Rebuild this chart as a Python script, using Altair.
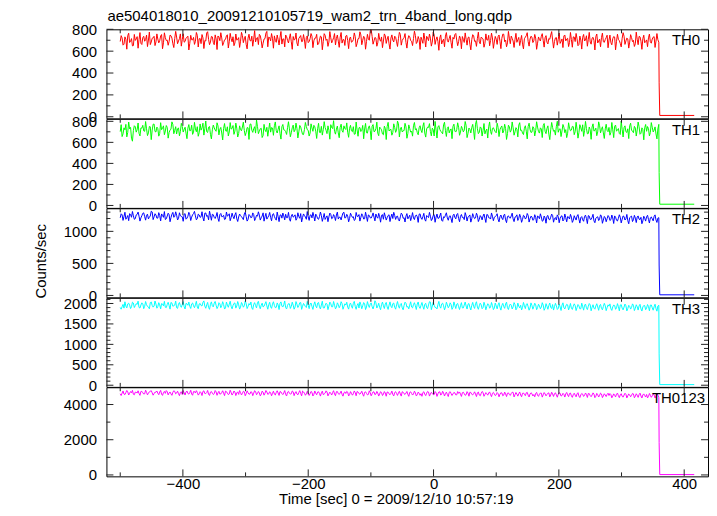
import altair as alt
import pandas as pd

# ---------------- data ----------------
T_START = -500          # first bin time of the A samples [s]
T_START_B = -498.5      # first bin time of the B samples [s]
T_STEP = 3              # spacing within each list [s]
TAIL_T = [360, 361, 416]  # times after the count-rate drop

TH0 = [
    688, 721, 664, 709, 742, 679, 715, 651, 698, 733, 706, 672, 724, 691, 747, 702, 660, 718, 736, 684,
    711, 695, 752, 677, 723, 701, 689, 741, 668, 716, 729, 693, 758, 705, 682, 719, 737, 671, 704, 726,
    690, 745, 713, 669, 722, 698, 766, 707, 684, 731, 659, 712, 739, 696, 721, 677, 708, 750, 687, 714,
    732, 675, 701, 724, 691, 743, 713, 662, 719, 698, 737, 709, 685, 726, 754, 697, 673, 715, 781, 729,
    694, 718, 740, 681, 707, 727, 665, 712, 748, 699, 721, 686, 734, 709, 675, 717, 743, 690, 703, 725,
    678, 714, 736, 695, 720, 658, 701, 731, 689, 745, 710, 683, 722, 698, 761, 716, 692, 728, 674, 705,
    739, 697, 718, 682, 706, 733, 671, 715, 749, 700, 724, 688, 712, 786, 735, 694, 719, 676, 708, 730,
    693, 741, 711, 667, 720, 702, 737, 686, 714, 753, 698, 725, 679, 709, 732, 690, 716, 744, 684, 707,
    728, 672, 711, 736, 696, 719, 683, 747, 705, 689, 722, 666, 710, 738, 699, 715, 678, 726, 752, 701,
    687, 716, 734, 680, 709, 724, 663, 706, 741, 694, 718, 685, 729, 712, 672, 703, 745, 697, 721, 684,
    710, 733, 690, 717, 755, 702, 676, 719, 738, 693, 708, 681, 726, 700, 664, 714, 742, 688, 711, 729,
    695, 720, 673, 707, 736, 699, 723, 682, 716, 747, 703, 689, 725, 708, 671, 712, 739, 694, 718, 680,
    706, 731, 688, 713, 660, 702, 727, 693, 741, 709, 684, 719, 698, 733, 675, 710, 724, 687, 706, 746,
    701, 678, 715, 729, 690, 708, 671, 718, 737, 694, 712, 683, 724, 699, 668, 709, 735, 691, 714, 677,
    703, 722, 686, 711, 733, 692, 705,
]
TH0_B = [
    742, 655, 731, 618, 764, 690, 648, 753, 712, 627, 770, 661, 736, 705, 642, 775, 684, 722, 651, 758,
    676, 739, 622, 768, 697, 654, 747, 720, 633, 781, 668, 715, 646, 759, 689, 728, 611, 745, 703, 662,
    771, 638, 716, 752, 624, 693, 778, 659, 735, 681, 749, 615, 727, 769, 652, 704, 741, 629, 763, 686,
    650, 757, 707, 634, 772, 678, 736, 621, 755, 693, 645, 788, 718, 660, 742, 630, 711, 765, 640, 724,
    761, 627, 699, 748, 656, 780, 712, 639, 733, 675, 759, 617, 702, 766, 648, 729, 687, 752, 625, 740,
    688, 761, 632, 719, 754, 667, 738, 613, 760, 699, 644, 779, 676, 723, 657, 748, 635, 771, 706, 652,
    745, 623, 729, 688, 767, 641, 714, 777, 659, 736, 618, 754, 700, 795, 664, 726, 645, 763, 691, 632,
    758, 671, 736, 619, 749, 684, 727, 643, 772, 655, 713, 761, 628, 742, 697, 651, 783, 670, 734, 616,
    703, 766, 638, 721, 757, 646, 776, 662, 731, 608, 749, 694, 640, 770, 683, 744, 627, 711, 762, 650,
    739, 622, 708, 767, 655, 730, 612, 751, 690, 644, 774, 667, 720, 636, 758, 701, 649, 765, 626, 735,
    662, 748, 623, 756, 687, 640, 781, 668, 717, 634, 763, 705, 651, 744, 621, 728, 769, 646, 737, 679,
    753, 617, 730, 693, 760, 637, 742, 666, 709, 779, 628, 721, 655, 766, 690, 633, 748, 711, 642, 771,
    636, 729, 762, 650, 738, 619, 753, 702, 645, 772, 664, 727, 611, 757, 693, 640, 765, 681, 724, 631,
    747, 658, 734, 612, 755, 696, 639, 769, 662, 720, 628, 751, 687, 643, 774, 659, 731, 617, 746, 688,
    641, 756, 673, 728, 634, 761, 682,
]
TH0_TAIL = [310, 12, 12]

TH1 = [
    702, 655, 738, 771, 694, 728, 640, 713, 749, 721, 686, 737, 762, 705, 729, 690, 748, 716, 774, 699,
    731, 684, 720, 757, 708, 742, 693, 726, 769, 714, 680, 738, 703, 751, 722, 688, 735, 710, 763, 697,
    727, 749, 691, 716, 782, 730, 702, 744, 676, 719, 738, 705, 757, 724, 689, 733, 711, 748, 698, 726,
    760, 707, 735, 684, 721, 746, 713, 694, 739, 771, 716, 729, 688, 752, 706, 734, 665, 718, 743, 722,
    697, 736, 758, 711, 725, 683, 749, 719, 702, 740, 728, 691, 764, 717, 732, 700, 745, 676, 723, 751,
    714, 688, 737, 762, 706, 729, 695, 752, 720, 741, 683, 715, 768, 731, 704, 726, 690, 743, 711, 757,
    722, 696, 734, 710, 749, 679, 718, 739, 703, 761, 727, 692, 736, 714, 754, 701, 730, 687, 745, 719,
    672, 733, 750, 708, 724, 693, 741, 717, 776, 728, 699, 712, 747, 685, 731, 706, 758, 720, 694, 739,
    716, 754, 689, 727, 742, 703, 735, 661, 718, 746, 724, 697, 766, 711, 733, 690, 728, 752, 707, 721,
    744, 698, 731, 715, 759, 686, 723, 740, 708, 772, 729, 695, 737, 712, 681, 726, 748, 704, 733, 719,
    691, 742, 720, 756, 709, 730, 683, 747, 716, 738, 700, 725, 764, 713, 689, 734, 706, 751, 722, 697,
    736, 711, 745, 688, 727, 759, 705, 732, 678, 719, 741, 714, 753, 696, 729, 708, 744, 721, 687, 735,
    717, 749, 702, 726, 693, 738, 767, 712, 731, 684, 720, 746, 707, 735, 699, 758, 724, 690, 728, 713,
    742, 696, 719, 753, 706, 731, 675, 724, 740, 701, 729, 757, 714, 692, 737, 718, 749, 686, 722, 739,
    705, 730, 694, 744, 716, 680, 727,
]
TH1_B = [
    768, 681, 719, 652, 793, 742, 611, 758, 697, 784, 661, 735, 709, 798, 664, 751, 626, 772, 703, 745,
    659, 787, 734, 673, 760, 640, 716, 795, 682, 749, 727, 662, 781, 698, 744, 635, 769, 712, 676, 790,
    701, 658, 775, 738, 669, 803, 694, 751, 633, 764, 717, 786, 671, 742, 623, 779, 705, 661, 788, 733,
    676, 783, 651, 757, 710, 792, 664, 740, 628, 775, 695, 749, 812, 683, 729, 646, 771, 702, 658, 784,
    741, 667, 794, 689, 757, 631, 770, 716, 675, 796, 653, 738, 701, 783, 642, 761, 709, 674, 789, 720,
    660, 776, 705, 748, 637, 781, 692, 669, 797, 714, 757, 630, 740, 806, 678, 755, 644, 773, 696, 731,
    785, 648, 762, 701, 677, 793, 658, 741, 715, 634, 780, 688, 757, 625, 769, 706, 792, 663, 733, 680,
    754, 627, 790, 719, 668, 776, 695, 802, 651, 744, 710, 781, 639, 766, 697, 659, 789, 730, 672, 758,
    693, 787, 650, 745, 778, 662, 720, 799, 641, 759, 704, 681, 791, 656, 748, 717, 635, 773, 698, 786,
    667, 752, 700, 798, 645, 736, 689, 771, 628, 808, 683, 747, 660, 779, 711, 641, 794, 676, 739, 700,
    782, 655, 743, 689, 772, 628, 763, 697, 794, 668, 740, 652, 787, 716, 674, 758, 633, 782, 694, 749,
    661, 796, 702, 738, 646, 779, 683, 757, 626, 789, 705, 669, 801, 724, 655, 770, 692, 645, 786, 710,
    752, 673, 791, 640, 768, 705, 657, 799, 681, 746, 629, 776, 714, 663, 795, 690, 748, 637, 772, 701,
    668, 789, 645, 764, 719, 684, 803, 651, 757, 694, 636, 782, 709, 752, 660, 793, 677, 738, 624, 770,
    750, 661, 788, 699, 747, 633, 771,
]
TH1_TAIL = [313, 12, 12]

TH2 = [
    1212, 1258, 1231, 1189, 1247, 1276, 1220, 1243, 1198, 1265, 1237, 1210, 1282, 1229, 1251, 1194, 1240, 1303, 1226, 1255,
    1207, 1248, 1272, 1219, 1185, 1239, 1261, 1214, 1296, 1233, 1252, 1201, 1244, 1227, 1268, 1190, 1236, 1259, 1222, 1279,
    1241, 1199, 1256, 1228, 1211, 1284, 1234, 1180, 1249, 1266, 1218, 1237, 1203, 1262, 1229, 1250, 1193, 1238, 1274, 1215,
    1232, 1257, 1196, 1224, 1248, 1209, 1271, 1230, 1186, 1245, 1219, 1263, 1201, 1236, 1254, 1212, 1289, 1227, 1191, 1243,
    1218, 1260, 1233, 1175, 1229, 1252, 1206, 1241, 1267, 1214, 1195, 1238, 1222, 1258, 1203, 1230, 1277, 1217, 1246, 1188,
    1225, 1251, 1210, 1236, 1269, 1199, 1231, 1247, 1213, 1186, 1242, 1226, 1264, 1208, 1233, 1255, 1192, 1221, 1240, 1298,
    1216, 1237, 1202, 1249, 1228, 1184, 1235, 1262, 1219, 1244, 1197, 1230, 1256, 1211, 1239, 1222, 1271, 1205, 1227, 1250,
    1189, 1234, 1214, 1259, 1223, 1200, 1246, 1232, 1182, 1226, 1265, 1212, 1238, 1195, 1252, 1220, 1207, 1243, 1229, 1268,
    1209, 1228, 1186, 1247, 1215, 1236, 1193, 1259, 1221, 1204, 1240, 1172, 1227, 1253, 1211, 1232, 1198, 1245, 1218, 1262,
    1201, 1234, 1216, 1183, 1241, 1222, 1256, 1196, 1229, 1210, 1248, 1187, 1225, 1238, 1204, 1263, 1213, 1192, 1236, 1219,
    1246, 1190, 1227, 1208, 1252, 1179, 1231, 1214, 1241, 1195, 1223, 1258, 1203, 1220, 1187, 1237, 1211, 1249, 1199, 1226,
    1184, 1218, 1242, 1197, 1225, 1168, 1210, 1236, 1189, 1221, 1249, 1202, 1177, 1230, 1206, 1243, 1185, 1214, 1231, 1193,
    1222, 1171, 1208, 1239, 1192, 1215, 1180, 1233, 1201, 1246, 1187, 1219, 1164, 1205, 1228, 1194, 1237, 1176, 1212, 1198,
    1226, 1183, 1209, 1241, 1173, 1204, 1220, 1188, 1232, 1196, 1167, 1214, 1238, 1181, 1207, 1225, 1190, 1219, 1162, 1203,
    1229, 1186, 1211, 1195, 1234, 1178, 1206,
]
TH2_B = [
    1274, 1171, 1298, 1215, 1167, 1262, 1310, 1188, 1256, 1301, 1160, 1243, 1289, 1175, 1268, 1222, 1314, 1183, 1275, 1206,
    1292, 1163, 1251, 1309, 1196, 1283, 1150, 1267, 1219, 1305, 1178, 1290, 1234, 1157, 1276, 1205, 1297, 1169, 1258, 1312,
    1180, 1269, 1218, 1306, 1162, 1287, 1245, 1315, 1173, 1260, 1201, 1294, 1155, 1279, 1231, 1184, 1302, 1248, 1166, 1284,
    1197, 1292, 1154, 1270, 1228, 1183, 1299, 1160, 1263, 1212, 1288, 1168, 1251, 1305, 1176, 1239, 1159, 1281, 1217, 1295,
    1165, 1277, 1199, 1301, 1152, 1258, 1286, 1179, 1213, 1296, 1158, 1266, 1233, 1174, 1290, 1204, 1147, 1272, 1225, 1309,
    1171, 1259, 1296, 1162, 1244, 1188, 1302, 1156, 1279, 1216, 1151, 1285, 1197, 1262, 1169, 1300, 1222, 1178, 1287, 1207,
    1266, 1149, 1283, 1218, 1170, 1295, 1233, 1160, 1274, 1193, 1299, 1155, 1247, 1208, 1288, 1164, 1226, 1281, 1143, 1261,
    1290, 1176, 1247, 1153, 1270, 1297, 1186, 1238, 1161, 1284, 1204, 1146, 1277, 1222, 1167, 1293, 1184, 1255, 1140, 1273,
    1187, 1281, 1159, 1232, 1296, 1168, 1249, 1142, 1270, 1205, 1286, 1157, 1215, 1290, 1173, 1244, 1137, 1268, 1195, 1279,
    1150, 1263, 1218, 1292, 1161, 1237, 1144, 1276, 1199, 1283, 1153, 1246, 1179, 1271, 1139, 1258, 1210, 1287, 1166, 1229,
    1275, 1148, 1255, 1183, 1268, 1136, 1242, 1206, 1284, 1152, 1229, 1170, 1266, 1141, 1251, 1192, 1279, 1145, 1237, 1173,
    1260, 1131, 1227, 1274, 1158, 1239, 1127, 1248, 1180, 1269, 1143, 1216, 1257, 1134, 1235, 1162, 1271, 1149, 1223, 1265,
    1140, 1244, 1176, 1262, 1129, 1230, 1157, 1253, 1121, 1238, 1186, 1266, 1135, 1219, 1168, 1258, 1126, 1233, 1150, 1247,
    1169, 1255, 1123, 1221, 1162, 1259, 1132, 1240, 1177, 1264, 1118, 1228, 1153, 1250, 1137, 1241, 1184, 1119, 1236, 1160,
    1251, 1130, 1225, 1164, 1257, 1139, 1214,
]
TH2_TAIL = [475, 10, 10]

TH3 = [
    1902, 1921, 1887, 1935, 1990, 1958, 1921, 2012, 1947, 1978, 1903, 1962, 1995, 1931, 1970, 1916, 2021, 1954, 1939, 1986,
    1925, 1967, 1998, 1942, 1908, 1975, 1950, 2026, 1933, 1961, 1897, 1984, 1946, 1972, 1919, 2003, 1956, 1928, 1991, 1944,
    1969, 1912, 1987, 1951, 2030, 1936, 1965, 1904, 1979, 1943, 2008, 1957, 1922, 1993, 1947, 1974, 1893, 1960, 1985, 1930,
    1953, 2014, 1938, 1968, 1910, 1982, 1945, 1999, 1926, 1963, 1890, 1977, 1949, 2018, 1934, 1958, 1915, 1989, 1941, 1970,
    1918, 1984, 1952, 1906, 1966, 2005, 1937, 1973, 1898, 1955, 1992, 1929, 1961, 1913, 1980, 1948, 2023, 1932, 1967, 1901,
    1959, 1988, 1924, 1971, 1940, 2009, 1917, 1963, 1895, 1950, 1981, 1935, 1996, 1920, 1957, 1906, 1976, 1944, 1999, 1927,
    1962, 1911, 1978, 1939, 2002, 1931, 1955, 1889, 1969, 1946, 1993, 1914, 1960, 1983, 1923, 1951, 2017, 1936, 1904, 1972,
    1943, 1987, 1916, 1958, 1934, 1996, 1909, 1966, 1940, 1979, 1893, 1952, 2006, 1927, 1961, 1913, 1974, 1945, 1988, 1919,
    1955, 1932, 1981, 1905, 1964, 2035, 1938, 1957, 1899, 1971, 1928, 1990, 1944, 1911, 1968, 1934, 1976, 1902, 1959, 1984,
    1921, 1947, 1892, 1963, 1937, 1982, 1908, 1953, 1926, 1994, 1915, 1944, 1969, 1898, 1957, 1930, 1975, 1912, 1948, 1886,
    1939, 1966, 1907, 1951, 1924, 1987, 1896, 1942, 1960, 1917, 1973, 1885, 1935, 1958, 1903, 1946, 1978, 1920, 1891, 1955,
    1928, 1968, 1899, 1938, 1914, 1962, 1883, 1931, 1952, 1906, 1975, 1922, 1944, 1877, 1917, 1959, 1897, 1936, 1966, 1910,
    1881, 1929, 1950, 1902, 1943, 1873, 1921, 1958, 1895, 1932, 1967, 1909, 1886, 1940, 1915, 1954, 1878, 1926, 1947, 1899,
    1934, 1870, 1918, 1952, 1893, 1925, 1961, 1887, 1912, 1945, 1876, 1930, 1903, 1957, 1882, 1921, 1940, 1868, 1915, 1949,
    1889, 1927, 1960, 1897, 1919, 1874, 1938,
]
TH3_B = [
    1861, 1978, 2042, 1893, 2008, 1876, 2033, 1901, 1995, 2057, 1889, 2016, 1873, 2049, 1928, 1870, 2038, 1911, 2061, 1885,
    2020, 1868, 1987, 2052, 1899, 2029, 1862, 2011, 1945, 2058, 1880, 2024, 1906, 2046, 1866, 1990, 2035, 1878, 2013, 1897,
    2054, 1872, 2001, 1939, 2063, 1883, 2027, 1858, 2040, 1917, 2050, 1875, 2019, 1896, 2044, 1864, 2036, 1907, 2055, 1869,
    2003, 1887, 2048, 1863, 2025, 1909, 2059, 1876, 1998, 2037, 1855, 2021, 1892, 2053, 1871, 2009, 1934, 2045, 1860, 2030,
    1881, 2043, 1898, 2014, 1852, 2039, 1913, 2062, 1867, 1996, 1879, 2032, 1861, 2047, 1902, 2018, 1857, 2001, 1926, 2051,
    1873, 2012, 1856, 2041, 1894, 2026, 1865, 2056, 1888, 2007, 1850, 2034, 1918, 2049, 1869, 2017, 1896, 2044, 1859, 1992,
    2031, 1862, 2010, 1884, 2052, 1858, 1999, 2038, 1871, 2023, 1852, 2046, 1903, 2015, 1866, 2067, 1889, 2006, 1848, 2035,
    1877, 2027, 1855, 2040, 1897, 2011, 1861, 2048, 1885, 2002, 1846, 2033, 1910, 1868, 2042, 1893, 2019, 1853, 2037, 1880,
    2024, 1859, 2005, 1874, 2044, 1849, 2029, 1903, 1867, 2051, 1886, 2009, 1844, 2032, 1895, 2016, 1857, 2039, 1876, 2001,
    1852, 2021, 1890, 2036, 1864, 1999, 1841, 2027, 1879, 2043, 1858, 2008, 1872, 2030, 1846, 1994, 1884, 2025, 1850, 2012,
    1869, 2019, 1838, 2004, 1881, 2033, 1853, 1987, 1866, 2022, 1845, 2010, 1892, 1843, 2026, 1875, 1997, 1836, 2015, 1861,
    2007, 1848, 1983, 1870, 2020, 1834, 1996, 1859, 2012, 1877, 1839, 2004, 1854, 1988, 1829, 2017, 1866, 1980, 1842, 2001,
    1855, 1992, 1827, 1975, 1868, 2008, 1837, 1985, 1851, 1999, 1822, 1970, 1861, 1994, 1833, 1978, 1846, 2003, 1825, 1967,
    1990, 1831, 1962, 1858, 1997, 1820, 1973, 1844, 1986, 1818, 1955, 1863, 1991, 1826, 1969, 1839, 1980, 1815, 1951, 1848,
    1975, 1821, 1964, 1836, 1983, 1812, 1957,
]
TH3_TAIL = [767, 15, 15]

TH0123 = [
    4612, 4648, 4595, 4682, 4721, 4638, 4669, 4583, 4704, 4657, 4626, 4739, 4671, 4609, 4690, 4645, 4752, 4663, 4618, 4698,
    4641, 4710, 4587, 4676, 4633, 4728, 4659, 4604, 4695, 4742, 4650, 4615, 4687, 4571, 4664, 4715, 4629, 4681, 4598, 4733,
    4653, 4690, 4606, 4667, 4745, 4624, 4674, 4580, 4701, 4642, 4615, 4719, 4661, 4592, 4684, 4637, 4760, 4648, 4601, 4688,
    4627, 4709, 4658, 4574, 4677, 4635, 4722, 4612, 4666, 4598, 4693, 4644, 4735, 4620, 4660, 4583, 4697, 4639, 4714, 4606,
    4672, 4631, 4589, 4683, 4652, 4741, 4616, 4664, 4570, 4700, 4638, 4611, 4725, 4656, 4597, 4679, 4629, 4766, 4645, 4601,
    4658, 4614, 4692, 4575, 4640, 4706, 4623, 4667, 4561, 4649, 4712, 4600, 4635, 4684, 4593, 4729, 4618, 4656, 4582, 4670,
    4627, 4698, 4560, 4641, 4609, 4680, 4739, 4618, 4655, 4586, 4693, 4632, 4571, 4664, 4612, 4718, 4597, 4648, 4604, 4676,
    4589, 4654, 4710, 4606, 4637, 4568, 4683, 4621, 4662, 4594, 4727, 4613, 4650, 4577, 4691, 4630, 4598, 4668, 4556, 4640,
    4615, 4679, 4583, 4646, 4704, 4597, 4630, 4561, 4668, 4609, 4721, 4587, 4652, 4614, 4573, 4690, 4626, 4602, 4660, 4549,
    4634, 4592, 4671, 4617, 4555, 4648, 4701, 4581, 4622, 4596, 4665, 4540, 4629, 4687, 4574, 4610, 4653, 4566, 4638, 4601,
    4552, 4619, 4581, 4658, 4535, 4603, 4640, 4568, 4627, 4690, 4559, 4593, 4612, 4544, 4636, 4578, 4665, 4529, 4597, 4620,
    4566, 4630, 4521, 4589, 4646, 4553, 4601, 4574, 4662, 4538, 4595, 4617, 4549, 4583, 4640, 4512, 4577, 4606, 4545, 4625,
    4498, 4561, 4533, 4604, 4479, 4548, 4587, 4515, 4570, 4627, 4507, 4541, 4593, 4469, 4556, 4522, 4598, 4490, 4539, 4575,
    4511, 4564, 4476, 4529, 4590, 4503, 4552, 4468, 4535, 4581, 4494, 4547, 4520, 4603, 4462, 4526, 4561, 4487, 4544, 4509,
    4570, 4458, 4523, 4495, 4552, 4481, 4536,
]
TH0123_B = [
    4512, 4771, 4565, 4798, 4540, 4736, 4804, 4553, 4689, 4780, 4521, 4747, 4595, 4813, 4548, 4722, 4786, 4530, 4705, 4765,
    4558, 4801, 4519, 4744, 4790, 4546, 4713, 4522, 4782, 4607, 4757, 4501, 4723, 4795, 4539, 4768, 4590, 4808, 4527, 4741,
    4785, 4534, 4729, 4511, 4776, 4620, 4799, 4515, 4738, 4570, 4794, 4523, 4750, 4602, 4782, 4505, 4731, 4561, 4811, 4537,
    4766, 4509, 4719, 4793, 4544, 4751, 4498, 4777, 4582, 4728, 4503, 4786, 4556, 4740, 4491, 4762, 4531, 4797, 4575, 4724,
    4496, 4759, 4542, 4781, 4517, 4711, 4563, 4792, 4485, 4746, 4598, 4770, 4504, 4733, 4550, 4789, 4493, 4715, 4526, 4752,
    4515, 4742, 4484, 4769, 4554, 4725, 4479, 4758, 4597, 4776, 4490, 4703, 4538, 4784, 4501, 4737, 4569, 4761, 4475, 4718,
    4748, 4488, 4732, 4530, 4771, 4497, 4709, 4586, 4755, 4472, 4722, 4547, 4779, 4494, 4716, 4559, 4744, 4481, 4730, 4512,
    4735, 4470, 4701, 4553, 4763, 4489, 4727, 4517, 4750, 4478, 4696, 4572, 4741, 4466, 4719, 4538, 4757, 4487, 4708, 4525,
    4467, 4725, 4506, 4743, 4479, 4692, 4560, 4738, 4462, 4711, 4533, 4751, 4484, 4703, 4455, 4729, 4514, 4688, 4547, 4736,
    4713, 4459, 4697, 4524, 4732, 4472, 4684, 4546, 4721, 4451, 4707, 4495, 4740, 4468, 4676, 4530, 4716, 4447, 4690, 4509,
    4680, 4436, 4671, 4497, 4706, 4452, 4662, 4518, 4697, 4430, 4683, 4475, 4712, 4441, 4655, 4503, 4691, 4427, 4668, 4486,
    4439, 4688, 4463, 4650, 4420, 4679, 4492, 4641, 4432, 4697, 4458, 4664, 4415, 4672, 4481, 4636, 4425, 4685, 4447, 4652,
    4408, 4640, 4437, 4671, 4396, 4627, 4461, 4655, 4402, 4618, 4445, 4662, 4389, 4633, 4426, 4649, 4393, 4610, 4452, 4641,
    4622, 4381, 4605, 4433, 4648, 4390, 4614, 4418, 4639, 4376, 4597, 4441, 4630, 4385, 4611, 4407, 4646, 4372, 4603, 4429,
    4377, 4625, 4410, 4598, 4368, 4617, 4402,
]
TH0123_TAIL = [1850, 20, 20]

PANEL_NAMES = ["TH0", "TH1", "TH2", "TH3", "TH0123"]
Y_DOMAINS = [[-15, 800], [-23, 824], [-30, 1360], [-40, 2140], [-80, 4980]]
Y_MAJOR = [
    [0, 200, 400, 600, 800],
    [0, 200, 400, 600, 800],
    [0, 500, 1000],
    [0, 500, 1000, 1500, 2000],
    [0, 2000, 4000],
]
Y_MINOR = [
    [100, 300, 500, 700],
    [100, 300, 500, 700],
    [100, 200, 300, 400, 600, 700, 800, 900, 1100, 1200, 1300],
    [100, 200, 300, 400, 600, 700, 800, 900, 1100, 1200, 1300, 1400,
     1600, 1700, 1800, 1900, 2100],
    [1000, 3000],
]
X_DOMAIN = [-522, 438]
X_MAJOR = [-400, -200, 0, 200, 400]
X_MINOR = [-500, -300, -100, 100, 300]

TITLE = "ae504018010_20091210105719_wam2_trn_4band_long.qdp"
X_TITLE = "Time [sec] 0 = 2009/12/10 10:57:19"
Y_TITLE = "Counts/sec"

# ---------------- style ----------------
FONT = "Liberation Sans"
FS = 15
W = 605
H = 89.6
COLORS = ["#ff0000", "#00ff00", "#0000ff", "#00ffff", "#ff00ff"]
LABEL_X = [597, 597, 597, 597, 602]
TICK_COLOR = "#222222"
MAJ = 7
MIN = 4

series_a = [TH0, TH1, TH2, TH3, TH0123]
series_b = [TH0_B, TH1_B, TH2_B, TH3_B, TH0123_B]
tails = [TH0_TAIL, TH1_TAIL, TH2_TAIL, TH3_TAIL, TH0123_TAIL]

xscale = alt.Scale(domain=X_DOMAIN, nice=False, zero=False)


def make_panel(k):
    ta = [T_START + T_STEP * i for i in range(len(series_a[k]))]
    tb = [T_START_B + T_STEP * i for i in range(len(series_b[k]))]
    df = pd.DataFrame({
        "t": ta + tb + TAIL_T,
        "v": series_a[k] + series_b[k] + tails[k],
    }).sort_values("t")
    yscale = alt.Scale(domain=Y_DOMAINS[k], nice=False, zero=False)
    last = k == len(series_a) - 1

    if last:
        xaxis = alt.Axis(values=X_MAJOR, ticks=False, tickSize=0, domain=False,
                         grid=False, format="d",
                         labelFont=FONT, labelFontSize=FS, labelColor="black",
                         labelPadding=0, labelFlush=False, labelOverlap=False,
                         title=X_TITLE, titleFont=FONT, titleFontSize=FS,
                         titleFontWeight="normal", titleColor="black",
                         titlePadding=0, titleX=291)
    else:
        xaxis = None

    yaxis = alt.Axis(values=Y_MAJOR[k], ticks=False, tickSize=0, domain=False,
                     grid=False, format="d",
                     labelFont=FONT, labelFontSize=FS, labelColor="black",
                     labelPadding=10, labelFlush=False, labelOverlap=False,
                     labelBound=False, title=None)

    line = alt.Chart(df).mark_line(color=COLORS[k], strokeWidth=1, clip=True).encode(
        x=alt.X("t:Q", scale=xscale, axis=xaxis, sort=None),
        y=alt.Y("v:Q", scale=yscale, axis=yaxis),
        order="t:Q",
    )

    layers = [line]
    for ticks, ln in [(Y_MAJOR[k], MAJ), (Y_MINOR[k], MIN)]:
        d = pd.DataFrame({"v": ticks})
        yenc = alt.Y("v:Q", scale=yscale, axis=yaxis)
        layers.append(alt.Chart(d).mark_rule(color=TICK_COLOR, strokeWidth=1).encode(
            y=yenc, x=alt.value(0), x2=alt.value(ln)))
        layers.append(alt.Chart(d).mark_rule(color=TICK_COLOR, strokeWidth=1).encode(
            y=yenc, x=alt.value(W - ln), x2=alt.value(W)))
    for ticks, ln in [(X_MAJOR, MAJ), (X_MINOR, MIN)]:
        d = pd.DataFrame({"t": ticks})
        xenc = alt.X("t:Q", scale=xscale, axis=xaxis)
        layers.append(alt.Chart(d).mark_rule(color=TICK_COLOR, strokeWidth=1).encode(
            x=xenc, y=alt.value(0), y2=alt.value(ln)))
        layers.append(alt.Chart(d).mark_rule(color=TICK_COLOR, strokeWidth=1).encode(
            x=xenc, y=alt.value(H - ln), y2=alt.value(H)))

    one = alt.Data(values=[{"a": 1}])
    layers.append(alt.Chart(one).mark_text(
        text=PANEL_NAMES[k], align="right", baseline="middle", font=FONT,
        fontSize=FS, color="black").encode(x=alt.value(LABEL_X[k]), y=alt.value(11)))

    if k == 0:
        layers.append(alt.Chart(one).mark_text(
            text=TITLE, align="left", baseline="alphabetic", font=FONT,
            fontSize=FS, color="black").encode(x=alt.value(1), y=alt.value(-8)))
    if k == 2:
        layers.append(alt.Chart(one).mark_text(
            text=Y_TITLE, align="center", baseline="middle", angle=270, font=FONT,
            fontSize=FS, color="black").encode(x=alt.value(-66), y=alt.value(53.3)))

    return alt.layer(*layers).properties(width=W, height=H)


chart = alt.vconcat(
    *[make_panel(k) for k in range(len(series_a))], spacing=0, bounds="flush"
).configure_view(
    stroke="black", strokeWidth=1
).properties(
    padding={"left": 25, "top": -1, "right": 0, "bottom": -1},
    background="white",
)

chart.save("out.html", embed_options={"renderer": "svg", "actions": False})
